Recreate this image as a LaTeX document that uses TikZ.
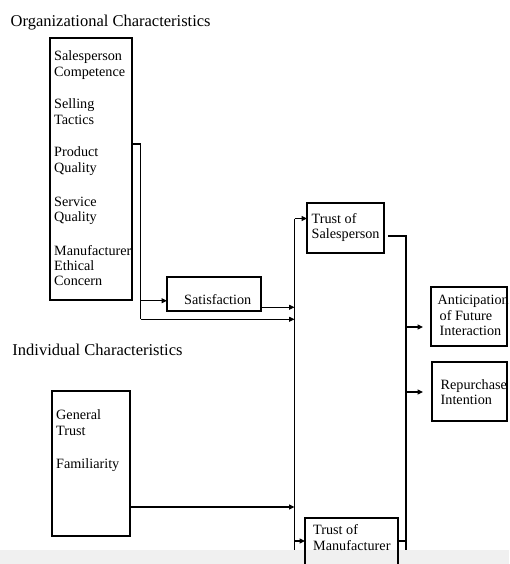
\documentclass[tikz,border=0pt]{standalone}
\usepackage{fontspec}
\setmainfont{Liberation Serif}
\usetikzlibrary{arrows.meta}

\begin{document}
\begin{tikzpicture}[x=1pt,y=-1pt,
  wire/.style={line width=1.1pt},
  arr/.style={wire,-{Triangle[length=5.5pt,width=5pt]}},
  box/.style={draw,line width=1.1pt,inner sep=0pt,outer sep=0pt,anchor=north west},
  ln/.style={anchor=base west,inner sep=0pt,font=\fontsize{14.2}{15.3}\selectfont},
  head/.style={anchor=base west,inner sep=0pt,font=\fontsize{16.5}{18}\selectfont}]

\useasboundingbox (0,0) rectangle (509,564);
% light strip along the foot of the page
\fill[black!6] (0,550) rectangle (509,564);

% headings
\node[head] (hOrg) at (10.5,27) {Organizational Characteristics};
\node[head] (hInd) at (12.3,355) {Individual Characteristics};

% boxes
\node[box,minimum width=82pt,minimum height=262pt] (org) at (50,38) {};
\node[box,minimum width=94pt,minimum height=34pt] (sat) at (167,277) {};
\node[box,minimum width=77pt,minimum height=50pt] (tsp) at (307,203) {};
\node[box,minimum width=76pt,minimum height=59pt] (ant) at (431,287) {};
\node[box,minimum width=75pt,minimum height=59pt] (rep) at (432,362) {};
\node[box,minimum width=78pt,minimum height=145pt] (gen) at (52,391) {};
\node[box,minimum width=93pt,minimum height=60pt] (tman) at (305,518) {};

% box texts
\node[ln] (o1) at (54,61) {Salesperson};
\node[ln] (o2) at (54,76.3) {Competence};
\node[ln] (o3) at (54,109) {Selling};
\node[ln] (o4) at (54,124.3) {Tactics};
\node[ln] (o5) at (54,157) {Product};
\node[ln] (o6) at (54,172.3) {Quality};
\node[ln] (o7) at (54,206) {Service};
\node[ln] (o8) at (54,221.3) {Quality};
\node[ln] (o9) at (54,255) {Manufacturer};
\node[ln] (o10) at (54,270.3) {Ethical};
\node[ln] (o11) at (54,285.6) {Concern};

\node[ln] (s1) at (184,304) {Satisfaction};

\node[ln] (t1) at (311.5,223.5) {Trust of};
\node[ln] (t2) at (311.5,238.5) {Salesperson};

\node[ln] (a1) at (437.5,304) {Anticipation};
\node[ln] (a2) at (439.5,320) {of Future};
\node[ln] (a3) at (439.5,335.7) {Interaction};

\node[ln] (r1) at (440.5,389) {Repurchase};
\node[ln] (r2) at (440.5,404) {Intention};

\node[ln] (g1) at (56,419.3) {General};
\node[ln] (g2) at (56,435) {Trust};
\node[ln] (g3) at (56,468.3) {Familiarity};

\node[ln] (m1) at (313,534) {Trust of};
\node[ln] (m2) at (313,550) {Manufacturer};

% junction points
\coordinate (oA) at (132,144);
\coordinate (oB) at (140.5,144);
\coordinate (oC) at (140.5,300.7);
\coordinate (oD) at (140.5,319.3);
\coordinate (lbTop) at (294.5,218.5);
\coordinate (lbSat) at (294.5,307.3);
\coordinate (lbOrg) at (294.5,319.3);
\coordinate (lbGen) at (294.5,507);
\coordinate (lbMan) at (294.5,541);
\coordinate (lbEnd) at (294.5,549.5);
\coordinate (rA) at (388,236);
\coordinate (rB) at (406,236);
\coordinate (rAnt) at (406,327);
\coordinate (rRep) at (406,392);
\coordinate (rMan) at (406,541);
\coordinate (rEnd) at (406,549.5);
\coordinate (antIn) at (423,327);
\coordinate (repIn) at (423,392);

% organizational characteristics feed satisfaction and the trust bus
\draw[wire] (oA) -- (oB) -- (oD);
\draw[arr] (oC) -- (oC -| sat.west);
\draw[arr] (oD) -- (lbOrg);
\draw[arr] (sat.east |- lbSat) -- (lbSat);

% individual characteristics feed the trust bus
\draw[arr] (gen.east |- lbGen) -- (lbGen);

% trust bus to both trust boxes
\draw[wire] (lbTop) -- (lbEnd);
\draw[arr] (lbTop) -- (lbTop -| tsp.west);
\draw[arr] (lbMan) -- (lbMan -| tman.west);

% trust boxes to outcomes
\draw[wire] (rA) -- (rB) -- (rEnd);
\draw[wire] (tman.east |- rMan) -- (rMan);
\draw[arr] (rAnt) -- (antIn);
\draw[arr] (rRep) -- (repIn);
\end{tikzpicture}
\end{document}
